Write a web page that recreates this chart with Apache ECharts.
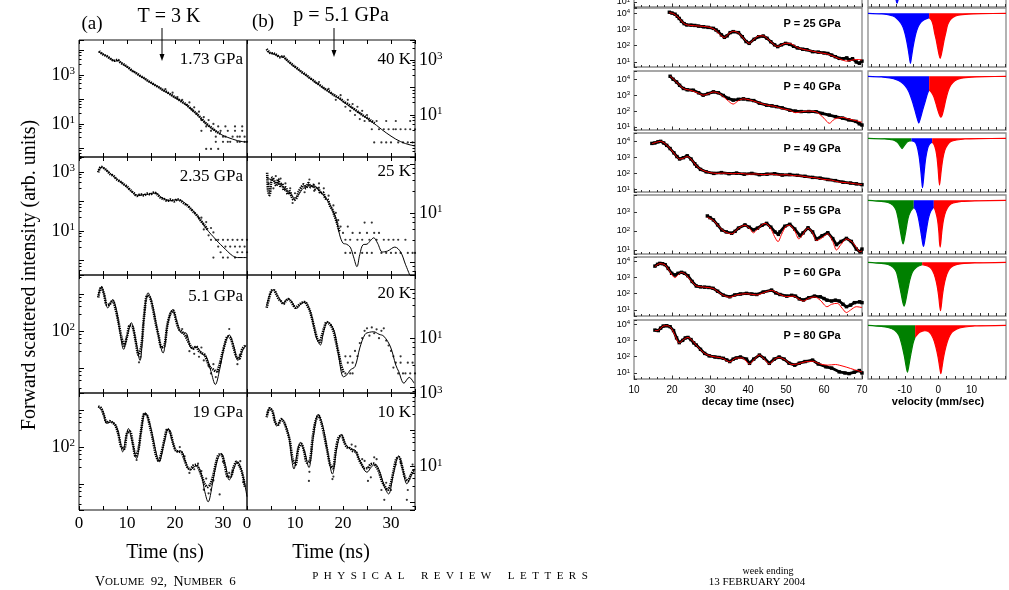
<!DOCTYPE html>
<html>
<head>
<meta charset="utf-8">
<title>Nuclear forward scattering time spectra</title>
<script src="https://cdn.jsdelivr.net/npm/echarts@6/dist/echarts.min.js"></script>
<style>html,body{margin:0;padding:0;background:#fff;}</style>
</head>
<body>
<div id="main" style="width:1009px;height:590px;"></div>
<script>
// ---- left figure: [time (ns), log10 intensity] ----
var fitA1 = [[4,3.95],[5,3.85],[6,3.74],[7,3.62],[7.6,3.57],[8.2,3.6],[9,3.46],[11,3.19],[13,2.93],[15,2.68],[17,2.45],[19,2.2],[21,1.96],[23,1.67],[24,1.5],[25,1.3],[26,1.1],[27,0.92],[28,0.77],[29,0.64],[30,0.53],[31,0.45],[32,0.38],[33,0.32],[34,0.28],[35,0.26]];
var dataA1 = [[4.2,3.97],[5,3.84],[5.8,3.77],[6.6,3.66],[7.3,3.58],[8,3.62],[8.7,3.5],[9.5,3.41],[10.3,3.3],[11.1,3.17],[11.9,3.08],[12.7,2.97],[13.5,2.88],[14.3,2.77],[15.1,2.68],[15.9,2.58],[16.7,2.49],[17.5,2.38],[18.3,2.3],[19.1,2.2],[19.9,2.1],[20.7,2.0],[21.5,1.9],[22.3,1.8],[23.1,1.66],[23.9,1.52],[24.7,1.38],[25.5,1.22],[26.3,1.05],[27.1,0.92],[27.9,0.8],[28.7,0.68],[29.5,0.6]];
var noiseA1 = [[18,2.42],[19.5,2.28],[20.5,2.1],[21.5,1.98],[22.5,1.78],[23,1.88],[23.5,1.58],[24,1.68],[24.5,1.42],[25,1.5],[25.5,1.16],[26,1.28],[26.5,0.9],[27,1.16],[27.5,0.72],[28,1.0],[28.5,0.48],[29,0.9],[29.5,0.72],[30,0.27],[30.5,0.48],[31,0.72],[31.5,0.27],[32,0.48],[32.5,0.72],[33,0.27],[33.5,0.48],[34,0.9],[34.5,0.48],[35,0.27],[26.5,-0.02],[27.5,-0.02],[28.5,0.27],[29,-0.02],[30,0.48],[31,0.27],[33,0.48],[34,0.72],[25.5,0.72],[30.5,0.9],[32.5,0.9],[33.5,0.27],[34.5,0.27]];

var fitB1 = [[4.1,3.33],[5,3.25],[6,3.2],[6.8,3.12],[7.5,3.11],[8.2,3.0],[9,2.88],[10,2.74],[11,2.61],[12,2.48],[13,2.35],[14,2.22],[15,2.1],[16,1.97],[17,1.85],[18,1.73],[19,1.62],[20,1.49],[21,1.36],[22,1.24],[23,1.12],[24,1.0],[25,0.88],[26,0.75],[27,0.62],[28,0.48],[29,0.35],[30,0.23],[31,0.12],[32,0.03],[33,-0.04],[34,-0.09],[35,-0.13]];
var dataB1 = [[4.1,3.4],[4.8,3.26],[5.5,3.24],[6.2,3.18],[6.9,3.1],[7.5,3.14],[8.2,3.02],[9,2.9],[9.8,2.78],[10.6,2.68],[11.4,2.56],[12.2,2.47],[13,2.36],[13.8,2.26],[14.6,2.15],[15.4,2.06],[16.2,1.95],[17,1.87],[17.8,1.76],[18.6,1.68],[19.4,1.6],[20.2,1.48],[21,1.4],[21.8,1.28],[22.6,1.18],[23.4,1.08],[24.2,0.98],[25,0.9],[25.8,0.8],[26.6,0.7]];
var noiseB1 = [[15,2.2],[17,1.95],[18.5,1.55],[19.5,1.72],[20.5,1.3],[21,1.55],[21.5,1.15],[22,1.4],[22.5,1.0],[23,1.3],[23.5,0.85],[24,1.15],[24.5,0.78],[25,1.0],[25.5,0.78],[26,0.48],[27,0.78],[27.5,0.48],[28,0.0],[28.5,0.48],[29,0.78],[29.5,0.48],[30,0.0],[30.5,0.48],[31,0.48],[31.5,0.0],[32,0.48],[32.5,0.0],[33,0.48],[33.5,0.0],[34,0.48],[34.5,0.0],[35,0.48],[29,0.0],[26.5,0.0],[31,0.78],[34,0.78]];

var fitA2 = [[4,3.02],[4.8,3.16],[5.5,3.08],[6.5,2.95],[7.5,2.8],[8.5,2.68],[9.5,2.55],[10.5,2.4],[11.5,2.25],[12.5,2.2],[13.5,2.23],[14.5,2.24],[15.5,2.28],[16.3,2.26],[17,2.15],[18,2.06],[19,2.02],[20,2.05],[21,2.04],[22,1.95],[23,1.8],[24,1.64],[25,1.43],[26,1.2],[27,0.98],[28,0.8],[29,0.62],[30,0.46],[31,0.3],[32,0.16],[33,0.1],[34,0.1],[35,0.1]];
var dataA2 = [[4,2.98],[4.6,3.17],[5.2,3.12],[5.8,3.04],[6.5,2.92],[7.2,2.86],[7.9,2.74],[8.6,2.67],[9.3,2.58],[10,2.5],[10.7,2.38],[11.4,2.28],[12.1,2.18],[12.8,2.24],[13.5,2.2],[14.2,2.26],[14.9,2.24],[15.6,2.3],[16.3,2.24],[17,2.12],[17.7,2.08],[18.4,2.02],[19.1,2.06],[19.8,2.0],[20.5,2.07],[21.2,2.02],[21.9,1.93],[22.6,1.86],[23.3,1.74],[24,1.62],[24.7,1.5],[25.4,1.34],[26.1,1.2],[26.8,1.04]];
var noiseA2 = [[25.5,1.45],[26,1.05],[26.5,1.3],[27,0.85],[27.5,1.1],[27.5,0.7],[28,0.95],[28.5,0.7],[29,0.47],[29,0.7],[29.5,0.28],[30,0.7],[30.5,0.47],[31,0.7],[31.5,0.47],[32,0.7],[32.5,0.47],[33,0.7],[33.5,0.47],[34,0.7],[34.5,0.47],[35,0.7],[28,0.1],[30,0.1],[31,0.1],[32.5,0.1],[34,0.28],[33,0.28],[35,0.28]];

var fitB2 = [[4.2,1.7],[5,1.68],[6,1.62],[7,1.58],[8,1.48],[9,1.4],[10,1.3],[10.7,1.36],[11.7,1.5],[13,1.55],[14,1.55],[15,1.46],[16,1.35],[17,1.22],[18,1.02],[18.6,0.86],[19.3,0.55],[20,0.38],[20.7,0.36],[21.5,0.3],[22.2,0.1],[22.9,-0.1],[23.5,0.15],[24.2,0.35],[25,0.36],[25.7,0.43],[26.4,0.49],[27.2,0.38],[28.2,0.2],[29.3,0.22],[30.8,0.3],[32,0.2],[33,-0.05],[33.9,-0.27]];
var dataB2 = [[4.2,1.82],[4.4,1.45],[4.7,1.36],[5,1.6],[5.3,1.72],[5.7,1.65],[6.1,1.55],[6.5,1.69],[6.9,1.55],[7.3,1.6],[7.7,1.46],[8.1,1.52],[8.5,1.38],[8.9,1.44],[9.3,1.33],[9.8,1.26],[10.3,1.3],[10.8,1.44],[11.3,1.52],[11.8,1.58],[12.3,1.5],[12.8,1.61],[13.3,1.52],[13.8,1.57],[14.3,1.48],[14.8,1.52],[15.3,1.4],[15.8,1.42],[16.3,1.3],[16.8,1.27],[17.3,1.14],[17.8,1.06],[18.3,0.92],[18.8,0.78],[19.3,0.6]];
var noiseB2 = [[4.5,1.6],[5.5,1.5],[6,1.75],[7,1.7],[8,1.6],[9,1.5],[9.5,1.2],[10,1.4],[12,1.42],[13,1.68],[14,1.45],[15,1.6],[16,1.5],[17,1.35],[18,1.15],[18.5,1.0],[19,0.85],[19.5,0.72],[20,0.59],[20.5,0.45],[21,0.72],[21.5,0.45],[22,0.59],[22.5,0.18],[23,0.45],[23.5,0.59],[24,0.45],[24.5,0.8],[25,0.59],[25.5,0.45],[26,0.8],[26.5,0.59],[27,0.45],[27.5,0.59],[28,0.18],[28.5,0.45],[29,0.18],[29.5,0.45],[30,0.18],[30.5,0.45],[31,0.18],[31.5,0.45],[32,0.18],[33,0.45],[33.5,0.18],[34.5,0.18],[35,0.18],[20.5,0.18],[21.5,0.18],[24,0.18],[25,0.18],[26,0.18]];

var fitA3 = [[4,2.95],[4.7,3.2],[5.3,2.95],[6,2.62],[7,2.84],[7.8,2.55],[8.5,2.0],[9.3,1.5],[10.1,1.9],[10.9,2.22],[11.8,1.75],[12.7,1.2],[13.5,2.3],[14.4,3.03],[15.3,2.7],[16.5,1.9],[17.5,1.4],[18.5,2.2],[19.5,2.57],[20.5,2.2],[21.4,1.94],[22.2,1.95],[23.5,1.52],[24.5,1.56],[25.6,1.38],[26.5,1.3],[27.5,0.9],[28.4,0.55],[29.3,0.95],[30.3,1.6],[31.3,1.89],[32.2,1.6],[33.1,1.2],[34,1.45],[34.8,1.62]];
var dataA3 = [[4,2.9],[4.6,3.18],[5.2,3.0],[5.8,2.7],[6.4,2.72],[7,2.82],[7.6,2.6],[8.2,2.25],[8.8,1.85],[9.4,1.6],[10,1.85],[10.6,2.15],[11.2,2.1],[11.8,1.72],[12.4,1.35],[13,1.6],[13.6,2.45],[14.2,2.95],[14.8,2.9],[15.4,2.6],[16,2.2],[16.6,1.85],[17.2,1.55],[17.8,1.6],[18.4,2.15],[19,2.45],[19.6,2.55],[20.2,2.3],[20.8,2.05],[21.4,1.98],[22,1.9],[22.6,1.75],[23.2,1.6],[23.8,1.52],[24.4,1.58],[25,1.45],[25.6,1.4],[26.2,1.35],[26.8,1.15],[27.4,1.0],[28,0.95],[28.6,0.9],[29.2,1.05],[29.8,1.35],[30.4,1.65],[31,1.85],[31.6,1.8],[32.2,1.55],[32.8,1.3],[33.4,1.25],[34,1.5],[34.6,1.6]];
var noiseA3 = [[9,1.7],[12.5,1.15],[12.8,1.3],[21.5,2.05],[22.5,1.85],[23,1.45],[24,1.38],[25,1.3],[25.5,1.55],[26,1.2],[27,1.05],[27.5,0.85],[28,1.1],[28.5,0.75],[29,0.9],[29.5,1.15],[31.3,2.05],[33,1.1],[33.5,1.35]];

var fitB3 = [[4.1,1.67],[4.8,1.9],[5.5,1.99],[6.5,1.85],[7.6,1.71],[8.4,1.8],[9,1.78],[10.4,1.61],[11.2,1.7],[12.1,1.74],[13,1.6],[13.7,1.35],[14.5,1.0],[15.3,0.86],[16,1.15],[16.8,1.33],[18.1,1.16],[19,0.7],[20.1,0.21],[20.8,0.25],[21.5,0.35],[22.5,0.42],[23.5,0.8],[24.6,1.08],[25.5,1.12],[26.4,1.13],[27.5,1.08],[28.5,1.04],[29.9,0.82],[31,0.45],[31.6,0.32],[32.7,0.08],[33.8,0.2],[34.8,0.08]];
var dataB3 = [[4.1,1.62],[4.6,1.82],[5.1,1.97],[5.6,1.98],[6.1,1.9],[6.6,1.8],[7.1,1.75],[7.6,1.7],[8.1,1.76],[8.6,1.8],[9.1,1.76],[9.6,1.68],[10.1,1.62],[10.6,1.66],[11.1,1.7],[11.6,1.73],[12.1,1.74],[12.6,1.66],[13.1,1.56],[13.6,1.38],[14.1,1.18],[14.6,1.0],[15.1,0.92],[15.6,1.05],[16.1,1.22],[16.6,1.33],[17.1,1.3],[17.6,1.24],[18.1,1.12],[18.6,0.9],[19.1,0.68],[19.6,0.45],[20.1,0.3]];
var noiseB3 = [[20.5,0.28],[21,0.5],[21.5,0.63],[22,0.5],[22.5,0.74],[23,0.63],[21.5,0.28],[20.5,0.63],[22,0.28],[23.5,0.9],[24,1.0],[24.5,1.15],[25,1.2],[25.5,1.05],[26,1.22],[26.5,1.1],[27,1.18],[27.5,1.0],[28,1.15],[28.5,1.2],[29,0.95],[29.5,0.85],[30,0.74],[30.5,0.63],[31,0.5],[31.5,0.28],[32,0.5],[32.5,0.28],[33,0.28],[33.5,0.5],[34,0.28],[34.5,0.5],[35,0.28],[30.5,0.4],[32,0.63]];

var fitA4 = [[4,3.09],[5,2.95],[5.8,2.64],[6.8,2.68],[7.8,2.55],[8.5,2.2],[9.1,1.87],[9.7,2.2],[10.3,2.5],[11,2.2],[12,1.69],[12.9,2.4],[13.8,2.93],[14.8,2.6],[15.8,2.0],[16.7,1.6],[17.7,2.1],[18.6,2.5],[19.5,2.15],[20.4,1.87],[21.2,1.9],[22.2,1.6],[23.1,1.38],[24.5,1.5],[25.4,1.3],[26.2,0.8],[26.9,0.52],[27.8,1.0],[28.7,1.6],[29.6,1.83],[30.5,1.5],[31.3,1.11],[32.2,1.4],[33,1.6],[34,1.3],[35,0.66]];
var dataA4 = [[4,3.1],[4.6,3.05],[5.2,2.85],[5.8,2.66],[6.4,2.7],[7,2.66],[7.6,2.58],[8.2,2.35],[8.8,2.0],[9.4,1.95],[10,2.38],[10.6,2.42],[11.2,2.1],[11.8,1.75],[12.4,1.95],[13,2.5],[13.6,2.9],[14.2,2.85],[14.8,2.55],[15.4,2.2],[16,1.8],[16.6,1.62],[17.2,1.85],[17.8,2.2],[18.4,2.48],[19,2.4],[19.6,2.1],[20.2,1.9],[20.8,1.88],[21.4,1.85],[22,1.65],[22.6,1.45],[23.2,1.4],[23.8,1.5],[24.4,1.52],[25,1.4],[25.6,1.2],[26.2,1.0],[26.8,0.92],[27.4,1.0],[28,1.25],[28.6,1.6],[29.2,1.8],[29.8,1.78],[30.4,1.5],[31,1.2],[31.6,1.2],[32.2,1.45],[32.8,1.6],[33.4,1.5],[34,1.3],[34.6,0.9]];
var noiseA4 = [[12,1.65],[21,2.0],[22,1.75],[23,1.3],[24,1.4],[24.8,1.55],[25.5,1.35],[26,0.85],[26.5,1.15],[27,0.75],[27.5,0.85],[28,1.1],[29.3,0.72],[30,1.6],[31.3,1.3],[32,1.35],[33.6,1.62],[34.2,1.05]];

var fitB4 = [[4.1,2.39],[4.8,2.62],[5.5,2.45],[6.2,2.11],[7.3,2.3],[8,2.15],[8.7,1.84],[9.8,0.93],[10.5,1.4],[11.1,1.66],[12,1.4],[12.9,0.97],[13.8,1.8],[14.8,2.43],[15.8,2.1],[16.8,1.4],[17.8,0.79],[18.7,1.5],[19.6,1.88],[20.6,1.6],[21.6,1.47],[22.5,1.45],[23.5,1.15],[25,0.84],[26,1.0],[26.7,1.06],[27.8,0.8],[28.6,0.45],[29.5,0.24],[30.5,0.8],[31.6,1.29],[32.4,0.95],[33.3,0.52],[34.2,0.75],[35,0.93]];
var dataB4 = [[4.1,2.35],[4.7,2.6],[5.3,2.52],[5.9,2.2],[6.5,2.15],[7.1,2.3],[7.7,2.22],[8.3,2.0],[8.9,1.72],[9.5,1.2],[10.1,1.05],[10.7,1.5],[11.3,1.62],[11.9,1.42],[12.5,1.1],[13.1,1.15],[13.7,1.8],[14.3,2.25],[14.9,2.4],[15.5,2.2],[16.1,1.85],[16.7,1.45],[17.3,1.05],[17.9,0.95],[18.5,1.45],[19.1,1.8],[19.7,1.85],[20.3,1.65],[20.9,1.52],[21.5,1.5],[22.1,1.42],[22.7,1.4],[23.3,1.2],[23.9,1.05],[24.5,0.95],[25.1,0.95],[25.7,1.05],[26.3,1.08],[26.9,1.0],[27.5,0.85],[28.1,0.6],[28.7,0.45],[29.3,0.35],[29.9,0.5],[30.5,0.85],[31.1,1.2],[31.7,1.25],[32.3,1.0],[32.9,0.7],[33.5,0.6],[34.1,0.75],[34.7,0.9]];
var noiseB4 = [[12.9,0.6],[13,0.85],[17.8,0.65],[18,0.72],[21.8,1.6],[22.6,1.55],[24,1.2],[24.5,1.15],[25.2,0.6],[25.8,0.7],[26.5,1.25],[27,1.2],[28,0.35],[28.6,0.08],[29,0.55],[30,0.35],[31,1.05],[32,1.1],[33.3,0.08],[33.5,0.35],[34.5,1.05]];

// ---- right figure: decay time [ns, log10 counts] ----
var r25Data = [[19.3,4.05],[20,4.0],[20.8,3.93],[21.4,3.8],[21.9,3.67],[22.5,3.5],[23.2,3.35],[23.9,3.27],[25,3.26],[26,3.24],[27,3.2],[28.3,3.16],[29.5,3.12],[30.9,3.06],[31.6,2.96],[32.2,2.86],[33,2.66],[33.8,2.51],[34.5,2.6],[35.3,2.8],[36.1,2.86],[37.5,2.8],[38.5,2.55],[39.5,2.25],[40.3,2.14],[41.6,2.39],[42.8,2.55],[44,2.59],[45,2.45],[46,2.24],[47,2.05],[47.8,1.94],[48.8,2.05],[49.9,2.14],[51,2.08],[52,1.96],[53,1.86],[54.4,1.78],[55.5,1.75],[57,1.63],[58.5,1.6],[60,1.55],[61,1.52],[62,1.42],[63,1.32],[64,1.22],[65,1.2],[66,1.25],[66.6,1.12],[67.5,1.2],[68.5,1.0],[69.3,0.92],[70,1.05]];
var r25Fit = [[19.3,4.02],[20.5,3.95],[21.9,3.68],[23,3.38],[24,3.27],[26,3.22],[28.3,3.18],[30,3.12],[31.5,2.95],[32.5,2.7],[33.8,2.5],[35,2.75],[36.2,2.88],[37.5,2.78],[39,2.4],[40.3,2.14],[41.6,2.4],[43,2.6],[44,2.6],[45.5,2.35],[47.8,1.95],[50,2.15],[51.5,2.1],[53,1.88],[55,1.75],[57,1.66],[59,1.56],[61,1.48],[63,1.3],[64.5,1.15],[66,1.05],[67.5,1.12],[69,1.15],[70,1.12]];
var r40Data = [[19.5,4.19],[20.3,4.0],[21.2,3.83],[22,3.62],[23,3.42],[24,3.34],[25.6,3.31],[27,3.15],[28.2,3.0],[29.5,3.1],[30.9,3.21],[32.2,3.15],[33.5,2.98],[34.8,2.8],[36.1,2.69],[37.5,2.74],[38.8,2.77],[40,2.72],[41.5,2.66],[43,2.5],[44.9,2.37],[46.3,2.33],[47.5,2.28],[49,2.2],[51,2.06],[52.5,2.0],[54,1.97],[56,1.97],[57.9,1.96],[59.5,1.85],[61.4,1.75],[63,1.65],[64.9,1.56],[66.5,1.45],[68.4,1.35],[69.3,1.2],[70,1.12]];
var r40Fit = [[19.5,4.2],[21.2,3.83],[23,3.42],[25,3.3],[27,3.12],[28.2,3.0],[29.5,3.08],[30.9,3.2],[32.5,3.1],[34.5,2.7],[36.1,2.44],[37.5,2.66],[38.8,2.77],[40.5,2.7],[42.5,2.55],[44.9,2.38],[47,2.3],[49,2.15],[51,2.05],[52.5,1.9],[54,1.95],[55.5,2.0],[57.9,1.95],[60,1.55],[61.4,1.23],[62.8,1.5],[64.9,1.6],[66.5,1.5],[68.4,1.4],[70,1.3]];
var r49Data = [[14.7,3.87],[15.5,3.9],[16.3,3.97],[17,4.0],[17.8,3.9],[18.6,3.75],[19.5,3.55],[20.5,3.28],[21.3,3.05],[22,2.9],[23,2.98],[24,3.1],[25,2.9],[26,2.6],[26.5,2.45],[27.5,2.25],[29,2.1],[31,2.0],[33,2.05],[35,1.98],[37,2.02],[39,1.95],[41,2.0],[43,1.92],[45,1.95],[47,1.98],[49,1.9],[51,1.93],[53,1.88],[55,1.82],[57,1.75],[59,1.7],[61,1.62],[63,1.55],[65,1.45],[67,1.4],[68.5,1.35],[70,1.3]];
var r49Fit = [[14.7,3.85],[16,3.95],[17,4.0],[18.2,3.85],[19.5,3.55],[21,3.12],[22,2.9],[23,2.95],[24,3.05],[25,2.9],[26.5,2.45],[28,2.2],[30,2.05],[32,2.0],[34,2.02],[36,1.98],[38,2.0],[40,1.95],[42,1.97],[44,1.92],[46,1.96],[48,1.9],[50,1.92],[52,1.86],[54,1.84],[56,1.76],[58,1.72],[60,1.62],[62,1.58],[64,1.46],[66,1.42],[68,1.36],[70,1.3]];
var r55Data = [[29.3,2.79],[30,2.7],[30.9,2.58],[32,2.32],[33.1,2.05],[34.3,1.95],[35.7,1.88],[36.6,1.98],[37.5,2.15],[39.2,2.32],[40.3,2.2],[41.4,2.05],[42.5,2.15],[43.7,2.3],[44.9,2.4],[46,2.2],[47.1,1.95],[48,1.82],[48.4,1.95],[49.7,2.25],[51,2.35],[52.3,2.1],[53.7,1.75],[54.5,1.9],[55.8,2.17],[57,1.95],[58,1.56],[59.5,1.75],[61,1.91],[62.3,1.6],[63.3,1.28],[64.5,1.45],[65.9,1.61],[67.2,1.45],[68.5,1.05],[69.5,0.9],[70,1.05]];
var r55Fit = [[29.3,2.72],[30.9,2.55],[32.5,2.2],[34,1.95],[35.7,1.85],[37.5,2.15],[39.2,2.3],[40.5,2.12],[41.4,1.9],[42.5,2.1],[44.5,2.4],[45.8,2.2],[47,1.7],[47.9,1.44],[48.8,1.8],[50,2.25],[51,2.3],[52.3,2.0],[53.4,1.58],[54.2,1.75],[55.8,2.15],[57,1.9],[58,1.5],[59.2,1.6],[61,1.85],[62.3,1.45],[63.3,1.0],[64.5,1.3],[65.9,1.58],[67.5,1.4],[68.6,1.1],[69.4,0.91],[70,0.95]];
var r60Data = [[15.5,3.69],[16.2,3.8],[16.8,3.86],[17.5,3.84],[18.2,3.78],[19,3.55],[19.9,3.25],[20.8,3.14],[21.6,3.25],[22.5,3.31],[23.3,3.25],[24.2,3.1],[25.3,2.75],[26.4,2.47],[27.5,2.42],[28.6,2.4],[29.7,2.38],[30.8,2.33],[32,2.15],[33.5,1.91],[35.2,1.81],[36.5,1.92],[38,1.98],[39.6,2.02],[41,1.98],[42.3,1.95],[44,2.1],[46.2,2.22],[47.3,2.05],[48.4,1.95],[50.2,1.85],[51.5,1.9],[52.5,1.85],[53.5,1.68],[54.6,1.61],[56,1.75],[57.5,1.85],[59,1.81],[60,1.7],[60.8,1.6],[62,1.55],[63,1.6],[64,1.55],[65,1.35],[65.9,1.2],[67,1.3],[68,1.45],[69.4,1.5],[70,1.45]];
var r60Fit = [[15.5,3.66],[16.8,3.84],[18.2,3.76],[19.3,3.4],[20.8,2.98],[21.6,3.15],[22.5,3.3],[23.5,3.2],[25,2.8],[26.4,2.48],[28.6,2.4],[30.8,2.32],[32.5,2.05],[33.5,1.9],[35.2,1.78],[37,1.92],[39.6,2.0],[42.3,1.92],[44,2.05],[46.2,2.2],[48.4,1.95],[50.2,1.82],[52,1.85],[53.5,1.65],[54.6,1.55],[56,1.72],[57.5,1.8],[59,1.6],[60.8,1.2],[62,1.35],[63.5,1.41],[64.8,1.1],[65.9,0.84],[67,1.0],[68.5,1.2],[70,1.15]];
var r80Data = [[15.5,3.63],[16.4,3.6],[17,3.75],[17.7,3.88],[18.6,3.9],[19.5,3.84],[20.4,3.6],[21.2,3.15],[21.9,2.86],[22.8,3.0],[23.5,3.15],[24.2,3.18],[25,3.05],[25.7,2.85],[26.4,2.71],[27.5,2.45],[28.6,2.2],[29.8,2.05],[31.3,1.98],[32.4,1.95],[33.5,1.9],[34.4,1.8],[35.2,1.7],[36.1,1.85],[36.9,1.92],[38,1.98],[39.6,1.85],[40.4,1.59],[41.5,1.85],[43,2.1],[44.3,1.9],[45.6,1.59],[46.9,1.85],[48.2,1.98],[49.5,1.85],[50.8,1.6],[52.3,1.48],[53.5,1.6],[55,1.7],[57,1.79],[58.5,1.55],[60.5,1.38],[62,1.3],[64,1.07],[65.5,1.0],[66.6,0.96],[68,1.05],[69.3,1.15],[70,1.0]];
var r80Fit = [[15.5,3.6],[16.4,3.62],[17.7,3.88],[18.8,3.9],[19.8,3.75],[20.8,3.3],[21.9,2.84],[23,3.05],[24.2,3.18],[25.3,3.0],[26.4,2.7],[28.6,2.2],[30.5,2.02],[32.4,1.95],[33.5,1.88],[35.2,1.68],[36.9,1.92],[38.5,1.92],[40.4,1.55],[41.5,1.8],[43,2.1],[44.3,1.85],[45.6,1.55],[47,1.85],[48.2,1.95],[49.8,1.8],[51.5,1.52],[53,1.55],[55,1.68],[57,1.72],[59,1.55],[61,1.48],[63,1.52],[64,1.48],[66,1.35],[68,1.2],[70,1.07]];

// ---- right figure: velocity spectra [mm/s, absorption depth] ----
var vTopBlue = [[-14,0.4],[-13,0.75],[-12.3,0.93],[-11.6,0.75],[-10.6,0.4]];
var v25Blue = [[-21,0],[-17,0.01],[-15,0.025],[-13.5,0.05],[-12.3,0.1],[-11.2,0.18],[-10.5,0.26],[-9.95,0.37],[-9.4,0.52],[-9.05,0.64],[-8.6,0.82],[-8.3,0.93],[-8.0,0.82],[-7.55,0.64],[-7.2,0.52],[-6.65,0.37],[-6.0,0.25],[-5.2,0.17],[-4.2,0.12],[-2.7,0.08]];
var v25Red = [[-2.7,0.08],[-2,0.13],[-1.5,0.22],[-1.05,0.37],[-0.5,0.52],[-0.15,0.64],[0.3,0.78],[0.6,0.84],[0.9,0.78],[1.35,0.64],[1.7,0.52],[2.25,0.37],[2.8,0.22],[3.5,0.13],[4.5,0.07],[6,0.035],[9,0.015],[13,0.006],[20.3,0]];
var v40Blue = [[-21,0],[-17,0.01],[-14.5,0.03],[-12.5,0.06],[-11,0.11],[-9.8,0.18],[-8.8,0.28],[-7.8,0.45],[-7,0.62],[-6.3,0.78],[-5.8,0.87],[-5.3,0.78],[-4.6,0.62],[-3.8,0.45],[-3.2,0.32],[-2.7,0.25]];
var v40Red = [[-2.7,0.25],[-2,0.3],[-1.3,0.38],[-0.7,0.5],[-0.1,0.63],[0.4,0.72],[0.8,0.76],[1.2,0.72],[1.7,0.6],[2.3,0.43],[3,0.27],[3.8,0.16],[5,0.08],[7,0.035],[10,0.015],[14,0.006],[20.3,0]];
var v49Green = [[-21,0],[-16,0.01],[-13.5,0.03],[-12.3,0.07],[-11.5,0.13],[-10.8,0.19],[-10.1,0.13],[-9.3,0.07],[-8.6,0.05],[-8,0.045]];
var v49Blue = [[-8,0.045],[-7.2,0.06],[-6.6,0.1],[-6.1,0.2],[-5.6,0.38],[-5.2,0.6],[-4.9,0.8],[-4.7,0.92],[-4.45,0.8],[-4.15,0.6],[-3.75,0.38],[-3.2,0.2],[-2.6,0.11],[-1.8,0.07]];
var v49Red = [[-1.8,0.07],[-1.2,0.12],[-0.7,0.22],[-0.3,0.38],[0,0.58],[0.2,0.75],[0.4,0.87],[0.65,0.75],[0.95,0.58],[1.4,0.38],[2,0.22],[2.8,0.12],[3.8,0.06],[5.5,0.03],[8,0.012],[12,0.005],[20.3,0]];
var v55Green = [[-21,0],[-17,0.02],[-15,0.04],[-13.5,0.09],[-12.6,0.18],[-12,0.33],[-11.3,0.58],[-10.8,0.75],[-10.5,0.81],[-10.2,0.75],[-9.7,0.58],[-9,0.33],[-8.2,0.2],[-7.3,0.13]];
var v55Blue = [[-7.3,0.13],[-6.6,0.18],[-5.9,0.33],[-5.2,0.58],[-4.7,0.78],[-4.4,0.86],[-4.1,0.78],[-3.6,0.58],[-2.9,0.33],[-2.2,0.2],[-1.3,0.12]];
var v55Red = [[-1.3,0.12],[-0.8,0.2],[-0.2,0.36],[0.2,0.58],[0.4,0.78],[0.6,0.87],[0.8,0.78],[1.1,0.58],[1.6,0.36],[2.3,0.2],[3.2,0.1],[4.5,0.05],[7,0.02],[11,0.008],[20.3,0]];
var v60Green = [[-21,0],[-17,0.02],[-15,0.04],[-13.5,0.09],[-12.5,0.18],[-11.9,0.33],[-11.1,0.58],[-10.6,0.74],[-10.2,0.815],[-9.8,0.74],[-9.3,0.58],[-8.5,0.33],[-7.7,0.18],[-6.5,0.09],[-4.8,0.045]];
var v60Red = [[-4.8,0.045],[-3,0.07],[-2,0.12],[-1.2,0.22],[-0.5,0.38],[0.1,0.6],[0.45,0.8],[0.7,0.9],[0.95,0.8],[1.3,0.6],[1.9,0.38],[2.6,0.22],[3.4,0.12],[4.6,0.06],[7,0.025],[11,0.01],[20.3,0]];
var v80Green = [[-21,0],[-17,0.02],[-15,0.04],[-13,0.09],[-11.8,0.18],[-11,0.33],[-10.1,0.58],[-9.6,0.76],[-9.2,0.87],[-8.8,0.76],[-8.3,0.58],[-7.5,0.33],[-6.9,0.22]];
var v80Red = [[-6.9,0.22],[-5.5,0.13],[-4,0.1],[-2.6,0.13],[-1.5,0.24],[-0.7,0.4],[0,0.6],[0.45,0.78],[0.8,0.9],[1.15,0.78],[1.6,0.6],[2.3,0.4],[3.1,0.24],[4.1,0.13],[5.5,0.07],[7.5,0.035],[11,0.012],[20.3,0]];

var velTicks = [-20,-17.5,-15,-12.5,-10,-7.5,-5,-2.5,0,2.5,5,7.5,10,12.5,15,17.5,20];
var velLabels = [-10,0,10];

var SERIF = '"Liberation Serif","DejaVu Serif",serif';
var SANS = '"Liberation Sans",Arial,sans-serif';
var BLUE = '#0000ff', RED = '#ff0000', GREEN = '#008000';

var chart = echarts.init(document.getElementById('main'));
var grids = [], xAxes = [], yAxes = [], series = [];

function toVal(arr) {
    return arr.map(function (p) { return [p[0], Math.pow(10, p[1])]; });
}
function supFmt(show) {
    return function (v) {
        var e = Math.log10(v), r = Math.round(e);
        if (Math.abs(e - r) > 1e-6) return '';
        if (show && show.indexOf(r) < 0) return '';
        return '10{s|' + r + '}';
    };
}

// one panel of the left figure
function leftPanel(p) {
    var gi = grids.length;
    grids.push({left: p.left, top: p.top, width: 168, height: p.h, show: true,
        borderColor: '#111', borderWidth: 1, outerBoundsMode: 'none'});
    var xi = xAxes.length;
    xAxes.push({gridIndex: gi, type: 'value', min: 0, max: 35, interval: 5, position: 'bottom',
        axisLine: {show: false, onZero: false}, splitLine: {show: false},
        axisTick: {inside: true, length: 4, lineStyle: {color: '#000'}},
        axisLabel: {show: !!p.bottom, margin: 5, color: '#000', fontFamily: SERIF, fontSize: 17,
            formatter: function (v) { return (v % 10 === 0 && v < 35) ? String(v) : ''; }}});
    xAxes.push({gridIndex: gi, type: 'value', min: 0, max: 35, interval: 5, position: 'top',
        axisLine: {show: false, onZero: false}, splitLine: {show: false}, axisLabel: {show: false},
        axisTick: {inside: true, length: 4, lineStyle: {color: '#000'}}});
    var yi = yAxes.length;
    yAxes.push({gridIndex: gi, type: 'log', logBase: 10, min: Math.pow(10, p.ylo), max: Math.pow(10, p.yhi),
        position: p.side, axisLine: {show: false, onZero: false}, splitLine: {show: false},
        axisTick: {inside: true, length: 5, lineStyle: {color: '#000'}},
        minorTick: {show: true, splitNumber: 5, length: 2.5, lineStyle: {color: '#000'}},
        axisLabel: {margin: 4, color: '#000', fontFamily: SERIF, fontSize: 18, formatter: supFmt(p.labels),
            rich: {s: {fontSize: 11, fontFamily: SERIF, color: '#000', verticalAlign: 'top'}}}});
    series.push({type: 'line', xAxisIndex: xi, yAxisIndex: yi, data: toVal(p.data), showSymbol: false,
        smooth: 0.3, lineStyle: {color: '#000', width: 2.6, type: [1.3, 0.9]}, z: 2});
    series.push({type: 'scatter', xAxisIndex: xi, yAxisIndex: yi, data: toVal(p.noise), symbolSize: 2.2,
        itemStyle: {color: '#000'}, z: 2});
    series.push({type: 'line', xAxisIndex: xi, yAxisIndex: yi, data: toVal(p.fit), showSymbol: false,
        smooth: 0.35, lineStyle: {color: '#000', width: 1}, z: 3});
}

// one time panel + one velocity panel of the right figure
function rightRow(p) {
    var gi = grids.length;
    grids.push({left: 634, top: p.top, width: 228, height: 59, show: true,
        borderColor: '#8a8a8a', borderWidth: 1.3, outerBoundsMode: 'none'});
    var xi = xAxes.length;
    xAxes.push({gridIndex: gi, type: 'value', min: 10, max: 70, interval: 10, position: 'bottom',
        axisLine: {show: false, onZero: false}, splitLine: {show: false},
        axisTick: {inside: true, length: 3.5, lineStyle: {color: '#333'}},
        minorTick: {show: true, splitNumber: 5, length: 2, lineStyle: {color: '#333'}},
        axisLabel: {show: !!p.bottom, margin: 6, color: '#000', fontFamily: SANS, fontSize: 10}});
    var yi = yAxes.length;
    yAxes.push({gridIndex: gi, type: 'log', logBase: 10, min: Math.pow(10, p.ylo), max: Math.pow(10, p.yhi),
        position: 'left', axisLine: {show: false, onZero: false}, splitLine: {show: false},
        axisTick: {inside: true, length: 3, lineStyle: {color: '#333'}},
        axisLabel: {margin: 4, color: '#000', fontFamily: SANS, fontSize: 9, formatter: supFmt(null),
            rich: {s: {fontSize: 6, fontFamily: SANS, color: '#000', verticalAlign: 'top'}}}});
    if (p.data) {
        series.push({type: 'line', xAxisIndex: xi, yAxisIndex: yi, data: toVal(p.data), symbol: 'rect',
            symbolSize: 3.4, showSymbol: true, itemStyle: {color: '#000'},
            lineStyle: {color: '#000', width: 2.8}, z: 2});
        series.push({type: 'line', xAxisIndex: xi, yAxisIndex: yi, data: toVal(p.fit), showSymbol: false,
            smooth: 0.3, lineStyle: {color: RED, width: 1}, z: 3});
    }
    // velocity panel
    var gv = grids.length;
    grids.push({left: 868, top: p.top, width: 138, height: 59, show: true,
        borderColor: '#8a8a8a', borderWidth: 1.3, outerBoundsMode: 'none'});
    var xv = xAxes.length;
    xAxes.push({gridIndex: gv, type: 'value', min: -21, max: 20.3, position: 'bottom',
        axisLine: {show: false, onZero: false}, splitLine: {show: false},
        axisTick: {inside: true, length: 3, customValues: velTicks, lineStyle: {color: '#333'}},
        axisLabel: {show: !!p.bottom, customValues: velLabels, margin: 6, color: '#000', fontFamily: SANS, fontSize: 10}});
    var yv = yAxes.length;
    yAxes.push({gridIndex: gv, type: 'value', inverse: true, min: -0.1, max: 1.0, show: false});
    p.vel.forEach(function (seg) {
        series.push({type: 'line', xAxisIndex: xv, yAxisIndex: yv, data: seg[0], showSymbol: false,
            smooth: 0.25, lineStyle: {color: seg[1], width: 1.2},
            areaStyle: {color: seg[1], opacity: 1, origin: 'auto'}, z: 2});
    });
}

leftPanel({left: 79, top: 40, h: 117, ylo: -0.35, yhi: 4.43, labels: [1, 3], side: 'left', fit: fitA1, data: dataA1, noise: noiseA1});
leftPanel({left: 79, top: 157, h: 118, ylo: -0.49, yhi: 3.5, labels: [1, 3], side: 'left', fit: fitA2, data: dataA2, noise: noiseA2});
leftPanel({left: 79, top: 275, h: 118, ylo: 0.32, yhi: 3.51, labels: [2], side: 'left', fit: fitA3, data: dataA3, noise: noiseA3});
leftPanel({left: 79, top: 393, h: 117, ylo: 0.3, yhi: 3.46, labels: [2], side: 'left', fit: fitA4, data: dataA4, noise: noiseA4, bottom: true});
leftPanel({left: 247, top: 40, h: 117, ylo: -0.53, yhi: 3.73, labels: [1, 3], side: 'right', fit: fitB1, data: dataB1, noise: noiseB1});
leftPanel({left: 247, top: 157, h: 118, ylo: -0.27, yhi: 2.14, labels: [1], side: 'right', fit: fitB2, data: dataB2, noise: noiseB2});
leftPanel({left: 247, top: 275, h: 118, ylo: -0.12, yhi: 2.29, labels: [1], side: 'right', fit: fitB3, data: dataB3, noise: noiseB3});
leftPanel({left: 247, top: 393, h: 117, ylo: -0.2, yhi: 3.02, labels: [1, 3], side: 'right', fit: fitB4, data: dataB4, noise: noiseB4, bottom: true});

rightRow({top: -52, ylo: 0.69, yhi: 4.31, vel: [[vTopBlue, BLUE]]});
rightRow({top: 8, ylo: 0.69, yhi: 4.31, data: r25Data, fit: r25Fit, vel: [[v25Blue, BLUE], [v25Red, RED]]});
rightRow({top: 71, ylo: 0.81, yhi: 4.52, data: r40Data, fit: r40Fit, vel: [[v40Blue, BLUE], [v40Red, RED]]});
rightRow({top: 133, ylo: 0.84, yhi: 4.52, data: r49Data, fit: r49Fit, vel: [[v49Green, GREEN], [v49Blue, BLUE], [v49Red, RED]]});
rightRow({top: 195, ylo: 0.79, yhi: 3.89, data: r55Data, fit: r55Fit, vel: [[v55Green, GREEN], [v55Blue, BLUE], [v55Red, RED]]});
rightRow({top: 257, ylo: 0.63, yhi: 4.25, data: r60Data, fit: r60Fit, vel: [[v60Green, GREEN], [v60Red, RED]]});
rightRow({top: 320, ylo: 0.63, yhi: 4.25, data: r80Data, fit: r80Fit, vel: [[v80Green, GREEN], [v80Red, RED]], bottom: true});

function txt(x, y, text, font, align, extra) {
    var el = {type: 'text', x: x, y: y, silent: true,
        style: {text: text, font: font, fill: '#000', textAlign: align || 'center', textVerticalAlign: 'middle'}};
    if (extra) for (var k in extra) el[k] = extra[k];
    return el;
}
var serif = function (s) { return s + 'px ' + SERIF; };
var SP = '\u2002';
var prl = ['PHYSICAL', 'REVIEW', 'LETTERS'].map(function (w) { return w.split('').join(SP); }).join(SP + SP + SP);
var graphics = [
    txt(92, 24, '(a)', serif(19)),
    txt(169, 17, 'T = 3 K', serif(20)),
    txt(263, 22, '(b)', serif(19)),
    txt(341, 16, 'p = 5.1 GPa', serif(20)),
    {type: 'line', silent: true, shape: {x1: 162, y1: 28, x2: 162, y2: 57}, style: {stroke: '#000', lineWidth: 1}},
    {type: 'polygon', silent: true, shape: {points: [[159.5, 54], [164.5, 54], [162, 61]]}, style: {fill: '#000'}},
    {type: 'line', silent: true, shape: {x1: 334, y1: 28, x2: 334, y2: 53}, style: {stroke: '#000', lineWidth: 1}},
    {type: 'polygon', silent: true, shape: {points: [[331.5, 50], [336.5, 50], [334, 57]]}, style: {fill: '#000'}},
    txt(243, 60, '1.73 GPa', serif(17), 'right'),
    txt(243, 177, '2.35 GPa', serif(17), 'right'),
    txt(243, 297, '5.1 GPa', serif(17), 'right'),
    txt(243, 413, '19 GPa', serif(17), 'right'),
    txt(411, 60, '40 K', serif(17), 'right'),
    txt(411, 172, '25 K', serif(17), 'right'),
    txt(411, 294, '20 K', serif(17), 'right'),
    txt(411, 413, '10 K', serif(17), 'right'),
    txt(30, 275, 'Forward scattered intensity (arb. units)', serif(20), 'center', {rotation: Math.PI / 2}),
    txt(165, 553, 'Time (ns)', serif(20)),
    txt(331, 553, 'Time (ns)', serif(20)),
    {type: 'text', x: 95, y: 582, silent: true, style: {
        text: '{b|V}{s|OLUME}  92,  {b|N}{s|UMBER}  6', font: '13px ' + SERIF, fill: '#000',
        textAlign: 'left', textVerticalAlign: 'middle',
        rich: {b: {fontSize: 14, fontFamily: SERIF, fill: '#000'}, s: {fontSize: 11, fontFamily: SERIF, fill: '#000'}}}},
    txt(450, 576, prl, '11px ' + SERIF),
    txt(768, 571, 'week ending', '10px ' + SERIF),
    txt(757, 582, '13 FEBRUARY 2004', '11px ' + SERIF),
    txt(812, 24, 'P = 25 GPa', 'bold 11px ' + SANS),
    txt(812, 87, 'P = 40 GPa', 'bold 11px ' + SANS),
    txt(812, 149, 'P = 49 GPa', 'bold 11px ' + SANS),
    txt(812, 211, 'P = 55 GPa', 'bold 11px ' + SANS),
    txt(812, 273, 'P = 60 GPa', 'bold 11px ' + SANS),
    txt(812, 336, 'P = 80 GPa', 'bold 11px ' + SANS),
    txt(748, 402, 'decay time (nsec)', 'bold 11px ' + SANS),
    txt(938, 402, 'velocity (mm/sec)', 'bold 11px ' + SANS)
];

chart.setOption({
    animation: false,
    backgroundColor: '#fff',
    grid: grids,
    xAxis: xAxes,
    yAxis: yAxes,
    series: series,
    graphic: graphics
});
</script>
</body>
</html>
